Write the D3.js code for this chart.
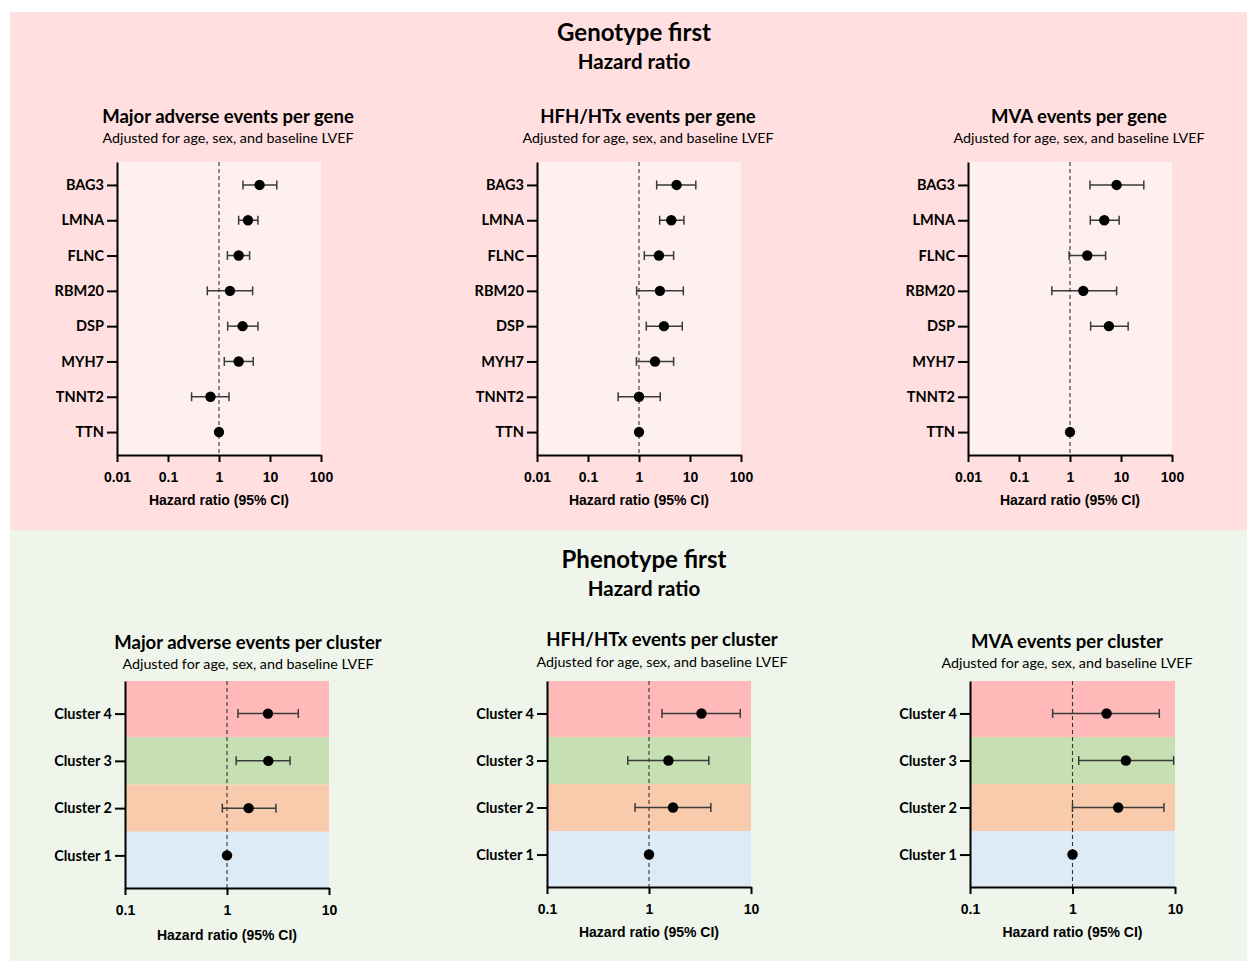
<!DOCTYPE html>
<html>
<head>
<meta charset="utf-8">
<script src="https://cdn.jsdelivr.net/npm/d3@7"></script>
<style>
  body { margin: 0; background: #fff; }
  svg { display: block; }
  .lbl { font-family: Lato, "Open Sans", sans-serif; font-weight: 700; }
  .num { font-family: "Liberation Sans", Arial, sans-serif; font-weight: 700; }
</style>
</head>
<body>
<div id="root"></div>
<script>
// categories and ticks
const genes = ["BAG3", "LMNA", "FLNC", "RBM20", "DSP", "MYH7", "TNNT2", "TTN"];
const clusters = ["Cluster 4", "Cluster 3", "Cluster 2", "Cluster 1"];
const geneTicks = [0.01, 0.1, 1, 10, 100];
const clusterTicks = [0.1, 1, 10];

// hazard ratios (point estimate, lower CI, upper CI)
const maeGeneHR = [6.25, 3.7, 2.43, 1.64, 2.9, 2.43, 0.68, 1];
const maeGeneLo = [2.95, 2.43, 1.46, 0.59, 1.48, 1.27, 0.29, null];
const maeGeneHi = [13.6, 5.8, 3.98, 4.56, 5.8, 4.7, 1.57, null];

const hfhGeneHR = [5.46, 4.3, 2.46, 2.57, 3.08, 2.06, 1.0, 1];
const hfhGeneLo = [2.22, 2.54, 1.27, 0.9, 1.39, 0.89, 0.39, null];
const hfhGeneHi = [13.0, 7.6, 4.77, 7.4, 7.05, 4.77, 2.61, null];

const mvaGeneHR = [8.2, 4.7, 2.18, 1.82, 5.8, null, null, 1];
const mvaGeneLo = [2.46, 2.5, 0.96, 0.44, 2.54, null, null, null];
const mvaGeneHi = [28, 9.2, 4.99, 8.2, 13.8, null, null, null];

const maeClusterHR = [2.52, 2.54, 1.63, 1];
const maeClusterLo = [1.28, 1.23, 0.9, null];
const maeClusterHi = [5.0, 4.15, 3.02, null];

const hfhClusterHR = [3.27, 1.55, 1.72, 1];
const hfhClusterLo = [1.34, 0.62, 0.73, null];
const hfhClusterHi = [7.85, 3.86, 4.04, null];

const mvaClusterHR = [2.15, 3.32, 2.79, 1];
const mvaClusterLo = [0.64, 1.15, 1.0, null];
const mvaClusterHi = [7.03, 9.7, 7.8, null];

const clusterColors = ["#FFB9B9", "#C6E0B4", "#F8CBAD", "#DDEBF7"];

const width = 1247, height = 961;
const svg = d3.select("#root").append("svg")
    .attr("width", width)
    .attr("height", height);

// section backgrounds
svg.append("rect").attr("x", 10).attr("y", 12).attr("width", width - 10).attr("height", 518).attr("fill", "#FFDFDF");
svg.append("rect").attr("x", 10).attr("y", 530).attr("width", width - 10).attr("height", height - 530).attr("fill", "#EFF5EA");

function heading(main, sub, cx, y1, y2) {
    svg.append("text").attr("class", "lbl").attr("x", cx).attr("y", y1)
        .attr("text-anchor", "middle").attr("font-size", 24).text(main);
    svg.append("text").attr("class", "lbl").attr("x", cx).attr("y", y2)
        .attr("text-anchor", "middle").attr("font-size", 20.5).text(sub);
}
heading("Genotype first", "Hazard ratio", 634, 41, 69);
heading("Phenotype first", "Hazard ratio", 644, 568, 596);

const subtitle = "Adjusted for age, sex, and baseline LVEF";

const panels = [
    {title: "Major adverse events per gene", cats: genes, hr: maeGeneHR, lo: maeGeneLo, hi: maeGeneHi, ticks: geneTicks,
     x0: 117, x1: 321, y0: 162, y1: 455, tcx: 228, ty: 123, sy: 143, ay: 505},
    {title: "HFH/HTx events per gene", cats: genes, hr: hfhGeneHR, lo: hfhGeneLo, hi: hfhGeneHi, ticks: geneTicks,
     x0: 537, x1: 741, y0: 162, y1: 455, tcx: 648, ty: 123, sy: 143, ay: 505},
    {title: "MVA events per gene", cats: genes, hr: mvaGeneHR, lo: mvaGeneLo, hi: mvaGeneHi, ticks: geneTicks,
     x0: 968, x1: 1172, y0: 162, y1: 455, tcx: 1079, ty: 123, sy: 143, ay: 505},
    {title: "Major adverse events per cluster", cats: clusters, hr: maeClusterHR, lo: maeClusterLo, hi: maeClusterHi, ticks: clusterTicks,
     x0: 125, x1: 329, y0: 681, y1: 888, tcx: 248, ty: 649, sy: 669, ay: 940, bands: true},
    {title: "HFH/HTx events per cluster", cats: clusters, hr: hfhClusterHR, lo: hfhClusterLo, hi: hfhClusterHi, ticks: clusterTicks,
     x0: 547, x1: 751, y0: 681, y1: 887, tcx: 662, ty: 646, sy: 667, ay: 937, bands: true},
    {title: "MVA events per cluster", cats: clusters, hr: mvaClusterHR, lo: mvaClusterLo, hi: mvaClusterHi, ticks: clusterTicks,
     x0: 970, x1: 1175, y0: 681, y1: 887, tcx: 1067, ty: 648, sy: 668, ay: 937, bands: true},
];

panels.forEach(p => {
    const x = d3.scaleLog()
        .domain([p.ticks[0], p.ticks[p.ticks.length - 1]])
        .range([p.x0, p.x1]);
    const y = d3.scalePoint()
        .domain(p.cats)
        .range([p.y0, p.y1])
        .padding(p.bands ? 0.69 : 0.65);
    const g = svg.append("g");

    // titles
    g.append("text").attr("class", "lbl").attr("x", p.tcx).attr("y", p.ty)
        .attr("text-anchor", "middle").attr("font-size", 18.5).text(p.title);
    g.append("text").attr("x", p.tcx).attr("y", p.sy)
        .attr("text-anchor", "middle").attr("font-size", 14.3)
        .attr("font-family", "Lato, 'Open Sans', sans-serif")
        .text(subtitle);

    // plot background
    if (p.bands) {
        const step = y.step();
        p.cats.forEach((c, i) => {
            const top = i === 0 ? p.y0 : y(c) - step / 2;
            const bot = i === p.cats.length - 1 ? p.y1 : y(c) + step / 2;
            g.append("rect").attr("x", p.x0).attr("y", top)
                .attr("width", p.x1 - p.x0).attr("height", bot - top)
                .attr("fill", clusterColors[i]);
        });
    } else {
        g.append("rect").attr("x", p.x0).attr("y", p.y0)
            .attr("width", p.x1 - p.x0).attr("height", p.y1 - p.y0)
            .attr("fill", "#FFF0F0");
    }

    // reference line at HR = 1
    g.append("line")
        .attr("x1", x(1)).attr("x2", x(1))
        .attr("y1", p.y0).attr("y2", p.y1)
        .attr("stroke", "#333").attr("stroke-width", 1.1)
        .attr("stroke-dasharray", "4,3");

    // x axis
    g.append("g")
        .attr("transform", `translate(0,${p.y1})`)
        .call(d3.axisBottom(x).tickValues(p.ticks).tickFormat(d => String(d)).tickSize(7).tickSizeOuter(0))
        .call(a => a.select(".domain").attr("stroke", "#000").attr("stroke-width", 2))
        .call(a => a.selectAll(".tick line").attr("stroke", "#000").attr("stroke-width", 2))
        .call(a => a.selectAll(".tick text").attr("class", "num").attr("font-size", 14)
            .attr("fill", "#000").attr("dy", "1.2em"));

    g.append("text").attr("class", "num")
        .attr("x", (p.x0 + p.x1) / 2).attr("y", p.ay)
        .attr("text-anchor", "middle").attr("font-size", 14)
        .text("Hazard ratio (95% CI)");

    // y axis
    g.append("g")
        .attr("transform", `translate(${p.x0},0)`)
        .call(d3.axisLeft(y).tickSize(10).tickSizeOuter(0).tickPadding(3))
        .call(a => a.select(".domain").attr("stroke", "#000").attr("stroke-width", 2))
        .call(a => a.selectAll(".tick line").attr("stroke", "#000").attr("stroke-width", 2))
        .call(a => a.selectAll(".tick text").attr("class", "lbl").attr("font-size", 14.5)
            .attr("fill", "#000"));

    // error bars and points
    const rows = p.cats.map((c, i) => ({c, hr: p.hr[i], lo: p.lo[i], hi: p.hi[i]}));
    const ci = rows.filter(d => d.lo != null && d.hi != null);
    const bars = g.append("g").attr("stroke", "#3a3a3a").attr("stroke-width", 1.5);
    bars.selectAll(".ci").data(ci).join("line")
        .attr("x1", d => x(d.lo)).attr("x2", d => x(d.hi))
        .attr("y1", d => y(d.c)).attr("y2", d => y(d.c));
    bars.selectAll(".capl").data(ci).join("line")
        .attr("x1", d => x(d.lo)).attr("x2", d => x(d.lo))
        .attr("y1", d => y(d.c) - 4.5).attr("y2", d => y(d.c) + 4.5);
    bars.selectAll(".caph").data(ci).join("line")
        .attr("x1", d => x(d.hi)).attr("x2", d => x(d.hi))
        .attr("y1", d => y(d.c) - 4.5).attr("y2", d => y(d.c) + 4.5);

    g.selectAll("circle").data(rows.filter(d => d.hr != null)).join("circle")
        .attr("cx", d => x(d.hr)).attr("cy", d => y(d.c))
        .attr("r", 5.2).attr("fill", "#000");
});
</script>
</body>
</html>
